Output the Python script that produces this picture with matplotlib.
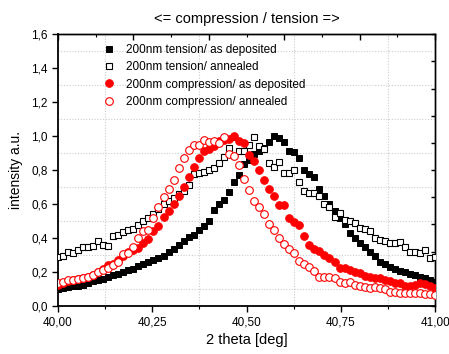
import numpy as np
import matplotlib
matplotlib.use("Agg")
import matplotlib.pyplot as plt
from matplotlib.ticker import FuncFormatter, MultipleLocator, NullFormatter, FixedLocator

plt.rcParams['font.family'] = ['Liberation Sans', 'DejaVu Sans']

# ---- data ----
x_start = 40.0
x_step = 1.0 / 75.0
n_points = 76

tension_as_dep = [0.10, 0.105, 0.11, 0.115, 0.12, 0.125, 0.135, 0.15, 0.155, 0.16,
                  0.17, 0.18, 0.19, 0.20, 0.21, 0.22, 0.235, 0.245, 0.26, 0.27,
                  0.285, 0.295, 0.315, 0.335, 0.36, 0.38, 0.405, 0.42, 0.45, 0.47,
                  0.50, 0.565, 0.60, 0.625, 0.67, 0.73, 0.77, 0.835, 0.86, 0.895,
                  0.91, 0.93, 0.965, 1.0, 0.99, 0.965, 0.915, 0.905, 0.87, 0.80,
                  0.775, 0.76, 0.69, 0.645, 0.60, 0.56, 0.52, 0.48, 0.43, 0.40,
                  0.37, 0.35, 0.32, 0.295, 0.26, 0.245, 0.23, 0.22, 0.208, 0.20,
                  0.19, 0.18, 0.172, 0.162, 0.153, 0.143]

tension_annealed = [0.29, 0.295, 0.32, 0.31, 0.33, 0.35, 0.345, 0.355, 0.38, 0.36,
                    0.355, 0.41, 0.42, 0.435, 0.445, 0.455, 0.475, 0.50, 0.52, 0.54,
                    0.57, 0.60, 0.62, 0.635, 0.66, 0.675, 0.71, 0.775, 0.785, 0.79,
                    0.80, 0.81, 0.84, 0.875, 0.93, 0.995, 0.91, 0.91, 0.945, 0.995,
                    0.94, 0.925, 0.84, 0.82, 0.85, 0.78, 0.78, 0.80, 0.73, 0.675,
                    0.665, 0.665, 0.645, 0.60, 0.585, 0.525, 0.545, 0.505, 0.50, 0.49,
                    0.46, 0.455, 0.44, 0.40, 0.39, 0.38, 0.37, 0.37, 0.375, 0.35,
                    0.32, 0.32, 0.31, 0.33, 0.28, 0.29]

compression_as_dep = [0.125, 0.135, 0.145, 0.155, 0.16, 0.165, 0.17, 0.185, 0.20, 0.22,
                      0.24, 0.25, 0.27, 0.295, 0.32, 0.33, 0.34, 0.37, 0.395, 0.44,
                      0.47, 0.525, 0.56, 0.60, 0.65, 0.70, 0.76, 0.82, 0.87, 0.91,
                      0.925, 0.94, 0.97, 0.975, 0.985, 1.0, 0.97, 0.962, 0.89, 0.855,
                      0.80, 0.74, 0.69, 0.645, 0.595, 0.595, 0.52, 0.497, 0.476, 0.41,
                      0.36, 0.335, 0.325, 0.30, 0.28, 0.26, 0.225, 0.222, 0.212, 0.202,
                      0.196, 0.175, 0.17, 0.163, 0.163, 0.153, 0.148, 0.135, 0.133, 0.12,
                      0.118, 0.124, 0.133, 0.13, 0.118, 0.105]

compression_annealed = [0.133, 0.143, 0.153, 0.155, 0.16, 0.167, 0.172, 0.18, 0.20, 0.212,
                        0.222, 0.24, 0.26, 0.305, 0.31, 0.35, 0.40, 0.44, 0.45, 0.515,
                        0.58, 0.64, 0.69, 0.74, 0.81, 0.87, 0.92, 0.947, 0.95, 0.975,
                        0.965, 0.972, 0.96, 0.995, 0.895, 0.885, 0.83, 0.75, 0.68, 0.62,
                        0.58, 0.54, 0.48, 0.45, 0.40, 0.365, 0.335, 0.31, 0.265, 0.25,
                        0.232, 0.205, 0.168, 0.168, 0.169, 0.163, 0.143, 0.133, 0.14, 0.124,
                        0.118, 0.114, 0.106, 0.11, 0.104, 0.098, 0.085, 0.084, 0.079, 0.075,
                        0.078, 0.079, 0.075, 0.072, 0.068, 0.065]

labels = ["200nm tension/ as deposited", "200nm tension/ annealed",
          "200nm compression/ as deposited", "200nm compression/ annealed"]

x_vals = x_start + x_step * np.arange(n_points)

# ---- figure ----
fig = plt.figure(figsize=(4.49, 3.54), dpi=100)
ax = fig.add_axes([0.129, 0.1356, 0.840, 0.768])

ax.plot(x_vals, tension_as_dep, ls='none', marker='s', ms=5.0, mfc='black',
        mec='black', mew=0.7, label=labels[0], zorder=3)
ax.plot(x_vals, tension_annealed, ls='none', marker='s', ms=5.0, mfc='white',
        mec='black', mew=0.8, label=labels[1], zorder=3)
ax.plot(x_vals, compression_as_dep, ls='none', marker='o', ms=5.5, mfc='#ff0000',
        mec='#ff0000', mew=0.7, label=labels[2], zorder=3)
ax.plot(x_vals, compression_annealed, ls='none', marker='o', ms=5.5, mfc='white',
        mec='#ff0000', mew=0.8, label=labels[3], zorder=3)

ax.set_xlim(40.0, 41.0)
ax.set_ylim(0.0, 1.6)

ax.xaxis.set_major_locator(MultipleLocator(0.25))
ax.xaxis.set_minor_locator(FixedLocator([40.125, 40.375, 40.625, 40.875]))
ax.yaxis.set_major_locator(MultipleLocator(0.2))
ax.yaxis.set_minor_locator(FixedLocator([0.1, 0.3, 0.5, 0.7, 0.9, 1.1, 1.3, 1.5]))
ax.xaxis.set_major_formatter(FuncFormatter(lambda v, p: f"{v:.2f}".replace('.', ',')))
ax.yaxis.set_major_formatter(FuncFormatter(lambda v, p: f"{v:.1f}".replace('.', ',')))

ax.tick_params(axis='both', which='major', direction='out', length=4, width=1,
               labelsize=8.5, top=False, right=False, colors='black')
ax.tick_params(axis='x', which='minor', direction='out', length=2.5, width=0.8,
               top=False)
ax.tick_params(axis='y', which='minor', length=0, right=False)

ax.grid(which='minor', color='#cccccc', linestyle=(0, (1, 1.5)), linewidth=0.8)
ax.grid(which='major', visible=False)
ax.set_axisbelow(True)

for s in ['left', 'bottom']:
    ax.spines[s].set_linewidth(1.3)
for s in ['top', 'right']:
    ax.spines[s].set_linewidth(1.0)

# top/right inward ticks
secx = ax.secondary_xaxis('top')
secx.xaxis.set_major_locator(MultipleLocator(0.2))
secx.xaxis.set_minor_locator(MultipleLocator(0.1))
secx.xaxis.set_major_formatter(NullFormatter())
secx.tick_params(which='major', direction='in', length=4, width=1)
secx.tick_params(which='minor', direction='in', length=2.5, width=0.8)
secx.spines['top'].set_linewidth(1.0)

secy = ax.secondary_yaxis('right')
secy.yaxis.set_major_locator(MultipleLocator(0.16))
secy.yaxis.set_major_formatter(NullFormatter())
secy.tick_params(which='major', direction='in', length=3, width=1)
secy.spines['right'].set_linewidth(1.0)

ax.set_xlabel("2 theta [deg]", fontsize=10.5, labelpad=3)
ax.set_ylabel("intensity a.u.", fontsize=10, labelpad=6)
ax.set_title("<= compression / tension =>", fontsize=10.5, pad=8)

ax.legend(loc='upper left', bbox_to_anchor=(0.1, 0.99), frameon=False,
          fontsize=8.5, handlelength=1.0, handletextpad=1.0, labelspacing=0.45,
          borderaxespad=0.2)

fig.savefig("out.png", dpi=100)
